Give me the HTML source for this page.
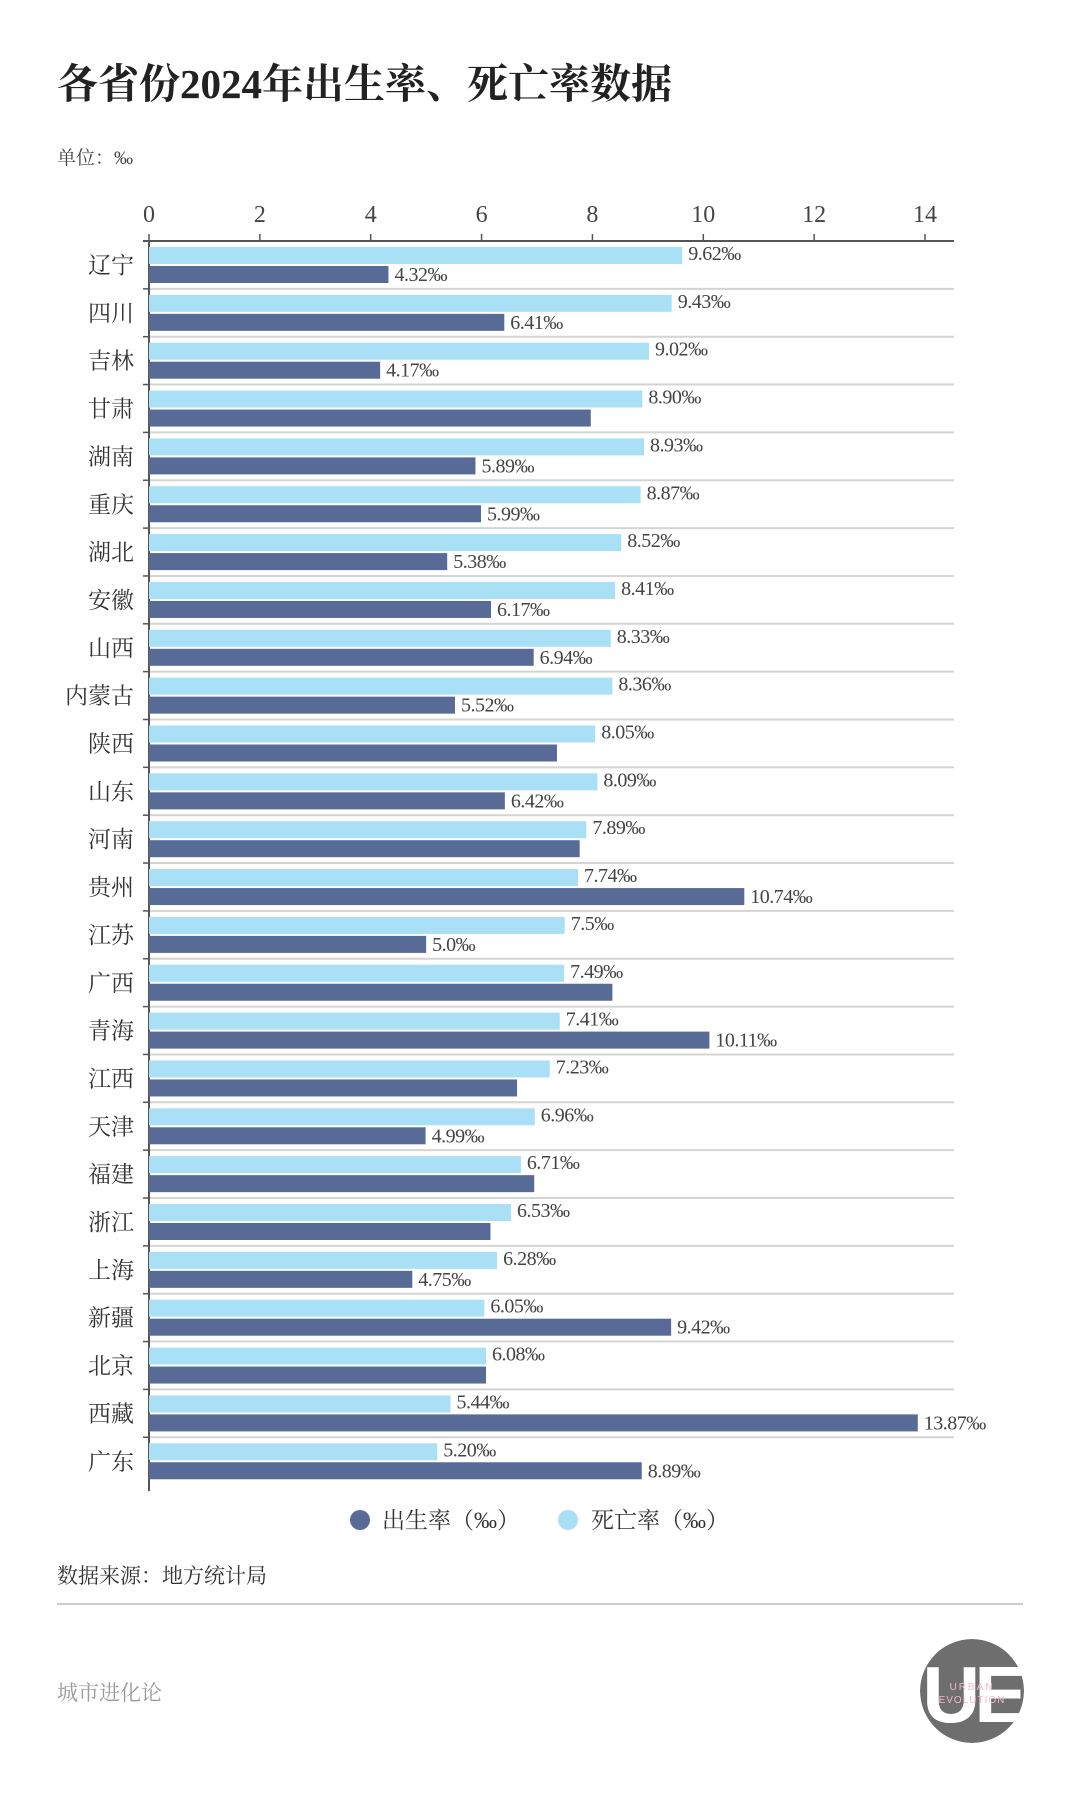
<!DOCTYPE html>
<html><head><meta charset="utf-8">
<style>
html,body{margin:0;padding:0;background:#fff;}
body{width:1080px;height:1800px;position:relative;overflow:hidden;font-family:"Liberation Serif","Noto Serif CJK SC",serif;}
</style></head>
<body>
<svg id="chart" width="1080" height="1800" xmlns="http://www.w3.org/2000/svg">
<defs><clipPath id="logoClip"><circle cx="972" cy="1691" r="52"/></clipPath></defs>
<text x="57" y="98" font-size="41" font-weight="bold" fill="#222" font-family="'Liberation Serif','Noto Serif CJK SC',serif">各省份2024年出生率、死亡率数据</text>
<text x="57" y="164" font-size="19" fill="#444" font-family="'Liberation Serif','Noto Serif CJK SC',serif">单位：‰</text>
<g id="axes"></g>
<g id="bars"></g>
<g>
<circle cx="360" cy="1520" r="10" fill="#586a96"/>
<text x="382" y="1528" font-size="23" fill="#333" font-family="'Liberation Serif','Noto Serif CJK SC',serif">出生率（‰）</text>
<circle cx="568" cy="1520" r="10" fill="#a9e0f6"/>
<text x="591" y="1528" font-size="23" fill="#333" font-family="'Liberation Serif','Noto Serif CJK SC',serif">死亡率（‰）</text>
</g>
<text x="57" y="1583" font-size="21" fill="#333" font-family="'Liberation Serif','Noto Serif CJK SC',serif">数据来源：地方统计局</text>
<line x1="57" y1="1604" x2="1023" y2="1604" stroke="#ccc" stroke-width="2"/>
<text x="57" y="1700" font-size="21" fill="#999" font-family="'Liberation Serif','Noto Serif CJK SC',serif">城市进化论</text>
<g clip-path="url(#logoClip)">
<circle cx="972" cy="1691" r="52" fill="#6e6e6e"/>
<text x="972" y="1722" font-size="80" font-weight="bold" fill="#fff" text-anchor="middle" font-family="'Liberation Sans',sans-serif" letter-spacing="-6">UE</text>
<text x="972" y="1690" font-size="10" fill="#f0b8d0" text-anchor="middle" font-family="'Liberation Sans',sans-serif" letter-spacing="2">URBAN</text>
<text x="972" y="1703" font-size="10" fill="#f0b8d0" text-anchor="middle" font-family="'Liberation Sans',sans-serif" letter-spacing="1">EVOLUTION</text>
</g>
</svg>
<script>
const provinces = ["辽宁","四川","吉林","甘肃","湖南","重庆","湖北","安徽","山西","内蒙古","陕西","山东","河南","贵州","江苏","广西","青海","江西","天津","福建","浙江","上海","新疆","北京","西藏","广东"];
const deathRates = [9.62,9.43,9.02,8.90,8.93,8.87,8.52,8.41,8.33,8.36,8.05,8.09,7.89,7.74,7.5,7.49,7.41,7.23,6.96,6.71,6.53,6.28,6.05,6.08,5.44,5.20];
const birthRates = [4.32,6.41,4.17,7.97,5.89,5.99,5.38,6.17,6.94,5.52,7.36,6.42,7.77,10.74,5.0,8.36,10.11,6.64,4.99,6.95,6.16,4.75,9.42,6.08,13.87,8.89];
const deathLabels = ["9.62‰","9.43‰","9.02‰","8.90‰","8.93‰","8.87‰","8.52‰","8.41‰","8.33‰","8.36‰","8.05‰","8.09‰","7.89‰","7.74‰","7.5‰","7.49‰","7.41‰","7.23‰","6.96‰","6.71‰","6.53‰","6.28‰","6.05‰","6.08‰","5.44‰","5.20‰"];
const birthLabels = ["4.32‰","6.41‰","4.17‰","","5.89‰","5.99‰","5.38‰","6.17‰","6.94‰","5.52‰","","6.42‰","","10.74‰","5.0‰","","10.11‰","","4.99‰","","","4.75‰","9.42‰","","13.87‰","8.89‰"];
const ticks = [0,2,4,6,8,10,12,14];

const NS = "http://www.w3.org/2000/svg";
const X0 = 149, X14 = 925, AXY = 241, ROWH = 47.85;
function xs(v){ return X0 + (X14 - X0) * v / 14; }
function rowTop(i){ return AXY + ROWH * i; }
function mk(tag, attrs, parent){ const e = document.createElementNS(NS, tag); for (const k in attrs) e.setAttribute(k, attrs[k]); parent.appendChild(e); return e; }
const axes = document.getElementById("axes"), bars = document.getElementById("bars");
const FONT = "'Liberation Serif','Noto Serif CJK SC',serif";

ticks.forEach(t => {
  const tx = mk("text", {x: xs(t), y: 222, "font-size": 24, fill: "#444", "text-anchor": "middle", "font-family": FONT}, axes);
  
  
  tx.textContent = t;
  const tk = mk("line", {x1: xs(t), y1: AXY - 7, x2: xs(t), y2: AXY, stroke: "#555", "stroke-width": 1.5}, axes);
  
  
});

provinces.forEach((p, i) => {
  const top = rowTop(i);
  if (i > 0) {
    const sep = mk("line", {x1: X0, y1: top, x2: 954, y2: top, stroke: "#d4d4d4", "stroke-width": 2}, axes);
    
    
  }
  const yt = mk("line", {x1: X0 - 6, y1: top, x2: X0, y2: top, stroke: "#555", "stroke-width": 1.5}, axes);
  
  
  const lb = mk("text", {x: 134, y: top + 32, "font-size": 23, fill: "#333", "text-anchor": "end", "font-family": FONT}, axes);
  
  
  lb.textContent = p;

  const d = mk("rect", {x: X0, y: top + 6, width: xs(deathRates[i]) - X0, height: 17, fill: "#a9e0f6"}, bars);
  
  
  const b = mk("rect", {x: X0, y: top + 25, width: xs(birthRates[i]) - X0, height: 17, fill: "#586a96"}, bars);
  
  
  if (deathLabels[i]) {
    const dl = mk("text", {x: xs(deathRates[i]) + 6, y: top + 19, "font-size": 20, fill: "#444", "font-family": FONT, "letter-spacing": "-0.5"}, bars);
    
    
    dl.textContent = deathLabels[i];
  }
  if (birthLabels[i]) {
    const bl = mk("text", {x: xs(birthRates[i]) + 6, y: top + 40, "font-size": 20, fill: "#444", "font-family": FONT, "letter-spacing": "-0.5"}, bars);
    
    
    bl.textContent = birthLabels[i];
  }
});

const xa = mk("line", {x1: X0 - 6, y1: AXY, x2: 954, y2: AXY, stroke: "#555", "stroke-width": 2}, axes);


const ya = mk("line", {x1: X0, y1: AXY, x2: X0, y2: rowTop(provinces.length) + 6, stroke: "#555", "stroke-width": 2}, axes);


</script>
</body></html>
